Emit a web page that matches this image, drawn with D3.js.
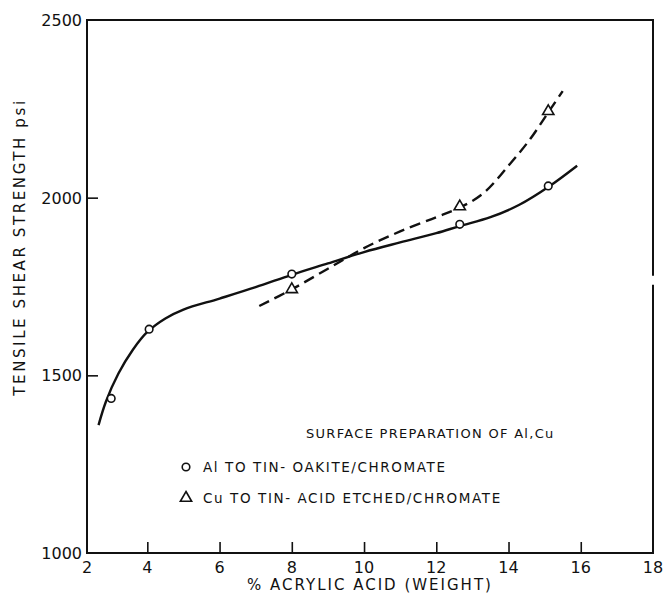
<!DOCTYPE html>
<html>
<head>
<meta charset="utf-8">
<script src="https://cdn.jsdelivr.net/npm/d3@7"></script>
<style>
  html, body { margin: 0; padding: 0; background: #fff; }
  svg { display: block; }
  text { font-family: "DejaVu Sans", sans-serif; fill: #111; }
</style>
</head>
<body>
<svg id="chart" width="663" height="595"></svg>
<script>
// ---- data ----
const xTicks = [4, 6, 8, 10, 12, 14, 16];
const xTickLabels = ["2", "4", "6", "8", "10", "12", "14", "16", "18"];
const yTicks = [1000, 1500, 2000, 2500];

// Al to Tin - Oakite/Chromate (circles)
const alX = [3.0, 4.05, 8.0, 12.65, 15.1];
const alY = [1435, 1630, 1785, 1925, 2033];
// Cu to Tin - Acid etched/Chromate (triangles)
const cuX = [8.0, 12.65, 15.1];
const cuY = [1742, 1975, 2243];

// fitted curves as drawn
const alCurveX = [2.65, 2.85, 3.2, 3.6, 4.0, 4.5, 5.0, 6.0, 7.0, 8.0, 9.0, 10.0, 11.0, 12.0, 12.65, 13.5, 14.3, 15.1, 15.9];
const alCurveY = [1360, 1425, 1505, 1572, 1622, 1660, 1685, 1716, 1748, 1783, 1815, 1847, 1874, 1900, 1920, 1945, 1980, 2030, 2090];
const cuCurveX = [7.1, 8.0, 9.0, 10.0, 11.0, 12.0, 12.65, 13.3, 14.0, 14.6, 15.1, 15.5];
const cuCurveY = [1695, 1742, 1800, 1858, 1905, 1945, 1972, 2012, 2090, 2165, 2240, 2300];

const legendTitle = "SURFACE PREPARATION OF Al,Cu";
const legendItems = ["Al TO TIN- OAKITE/CHROMATE", "Cu TO TIN- ACID ETCHED/CHROMATE"];
const yTitle = "TENSILE SHEAR STRENGTH psi";
const xTitle = "% ACRYLIC ACID (WEIGHT)";

// ---- layout ----
const svg = d3.select("#chart");
const mLeft = 87, mRight = 653, mTop = 20, mBottom = 553;
const xMin = 2.33, xMax = 18;

const x = d3.scaleLinear().domain([xMin, xMax]).range([mLeft, mRight]);
const y = d3.scaleLinear().domain([1000, 2500]).range([mBottom, mTop]);

const ink = "#111";

// bottom axis with inward ticks
const xAxis = d3.axisBottom(x).tickValues(xTicks).tickSize(-11).tickFormat("");
const gx = svg.append("g").attr("transform", `translate(0,${mBottom})`).call(xAxis);
gx.select(".domain").remove();
gx.selectAll("line").attr("stroke", ink).attr("stroke-width", 1.6);

// left axis with inward ticks
const yAxis = d3.axisLeft(y).tickValues(yTicks.slice(1, 3)).tickSize(-11).tickFormat("");
const gy = svg.append("g").attr("transform", `translate(${mLeft},0)`).call(yAxis);
gy.select(".domain").remove();
gy.selectAll("line").attr("stroke", ink).attr("stroke-width", 1.6);

// frame
const frame = svg.append("g").attr("stroke", ink).attr("stroke-width", 2).attr("fill", "none");
frame.append("line").attr("x1", mLeft).attr("x2", mLeft).attr("y1", y(2500) - 1).attr("y2", y(1000) + 1);
frame.append("line").attr("x1", mLeft).attr("x2", mRight).attr("y1", y(1000)).attr("y2", y(1000));
frame.append("line").attr("x1", mLeft).attr("x2", mRight).attr("y1", y(2500)).attr("y2", y(2500));
frame.append("line").attr("x1", mRight).attr("x2", mRight).attr("y1", y(2500) - 1).attr("y2", y(1780));
frame.append("line").attr("x1", mRight).attr("x2", mRight).attr("y1", y(1755)).attr("y2", y(1000) + 1);

// x tick labels (first label sits at the axis corner)
const xLabelPos = [xMin].concat(xTicks).concat([xMax]);
svg.append("g").selectAll("text").data(xLabelPos).join("text")
  .attr("x", d => x(d))
  .attr("y", mBottom + 20)
  .attr("text-anchor", "middle")
  .attr("font-size", 16)
  .text((d, i) => xTickLabels[i]);

// y tick labels
svg.append("g").selectAll("text").data(yTicks).join("text")
  .attr("x", mLeft - 5)
  .attr("y", d => y(d) + 6)
  .attr("text-anchor", "end")
  .attr("font-size", 16)
  .text(d => d);

// axis titles
svg.append("text")
  .attr("transform", `translate(25,${247}) rotate(-90)`)
  .attr("text-anchor", "middle")
  .attr("font-size", 15)
  .attr("letter-spacing", 2.6)
  .text(yTitle);

svg.append("text")
  .attr("x", 370)
  .attr("y", 590)
  .attr("text-anchor", "middle")
  .attr("font-size", 15)
  .attr("letter-spacing", 2)
  .text(xTitle);

// curves
const line = d3.line().x(d => x(d[0])).y(d => y(d[1])).curve(d3.curveCatmullRom.alpha(0.5));
svg.append("path")
  .datum(d3.zip(alCurveX, alCurveY))
  .attr("d", line)
  .attr("fill", "none").attr("stroke", ink).attr("stroke-width", 2.4);
svg.append("path")
  .datum(d3.zip(cuCurveX, cuCurveY))
  .attr("d", line)
  .attr("fill", "none").attr("stroke", ink).attr("stroke-width", 2.4)
  .attr("stroke-dasharray", "11,6");

// markers
const circleSym = d3.symbol().type(d3.symbolCircle).size(45);
const triSym = d3.symbol().type(d3.symbolTriangle).size(55);
svg.append("g").selectAll("path").data(d3.zip(alX, alY)).join("path")
  .attr("transform", d => `translate(${x(d[0])},${y(d[1])})`)
  .attr("d", circleSym)
  .attr("fill", "#fff").attr("stroke", ink).attr("stroke-width", 1.6);
svg.append("g").selectAll("path").data(d3.zip(cuX, cuY)).join("path")
  .attr("transform", d => `translate(${x(d[0])},${y(d[1])})`)
  .attr("d", triSym)
  .attr("fill", "#fff").attr("stroke", ink).attr("stroke-width", 1.6);

// legend
svg.append("text")
  .attr("x", 306).attr("y", 438)
  .attr("font-size", 13)
  .attr("letter-spacing", 1.3)
  .text(legendTitle);

const legendY = [467, 498];
const lg = svg.append("g");
lg.append("path")
  .attr("transform", `translate(186,${legendY[0]})`)
  .attr("d", circleSym)
  .attr("fill", "#fff").attr("stroke", ink).attr("stroke-width", 1.6);
lg.append("path")
  .attr("transform", `translate(186,${legendY[1]})`)
  .attr("d", triSym)
  .attr("fill", "#fff").attr("stroke", ink).attr("stroke-width", 1.6);
lg.selectAll("text").data(legendItems).join("text")
  .attr("x", 203)
  .attr("y", (d, i) => legendY[i] + 5)
  .attr("font-size", 13.5)
  .attr("letter-spacing", 1.6)
  .attr("xml:space", "preserve")
  .style("white-space", "pre")
  .text(d => d);
</script>
</body>
</html>
